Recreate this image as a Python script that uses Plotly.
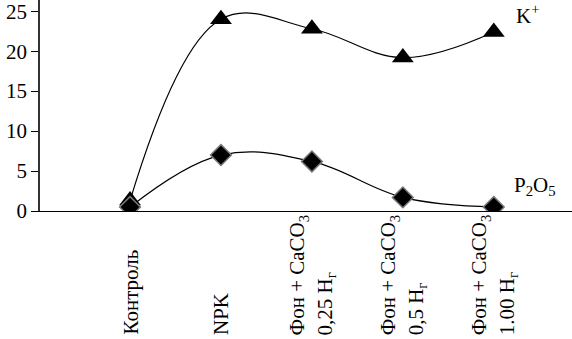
import plotly.graph_objects as go

categories = ["Контроль", "NPK",
              "Фон + CaCO<sub>3</sub><br>0,25 Н<sub>г</sub>",
              "Фон + CaCO<sub>3</sub><br>0,5 Н<sub>г</sub>",
              "Фон + CaCO<sub>3</sub><br>1.00 Н<sub>г</sub>"]
k_values = [1.3, 24.0, 22.8, 19.2, 22.4]
p_values = [0.5, 7.0, 6.2, 1.7, 0.5]
y_ticks = [0, 5, 10, 15, 20, 25]
series_names = ["K<sup>+</sup>", "P<sub>2</sub>O<sub>5</sub>"]

FONT = "Liberation Serif"

fig = go.Figure()
fig.add_trace(go.Scatter(
    x=categories, y=k_values, mode="lines+markers", name="K+",
    line=dict(color="black", width=1.2, shape="spline", smoothing=1.1),
    marker=dict(symbol="triangle-up", size=19, color="black", line=dict(width=0)),
))
fig.add_trace(go.Scatter(
    x=categories, y=p_values, mode="lines+markers", name="P2O5",
    line=dict(color="black", width=1.2, shape="spline", smoothing=1.1),
    marker=dict(symbol="diamond", size=16, color="black", line=dict(color="#777777", width=1.5)),
))

annotations = []
for c in categories:
    annotations.append(dict(
        x=c, y=-(337 - 211) / 211, xref="x", yref="paper",
        text=c, showarrow=False, textangle=-90,
        xanchor="center", yanchor="bottom", align="left",
        font=dict(family=FONT, size=21, color="black"),
    ))
annotations.append(dict(x=4.22, y=24.6, xref="x", yref="y", text=series_names[0],
                        showarrow=False, xanchor="left", yanchor="middle",
                        font=dict(family=FONT, size=21, color="black")))
annotations.append(dict(x=4.2, y=3.1, xref="x", yref="y", text=series_names[1],
                        showarrow=False, xanchor="left", yanchor="middle",
                        font=dict(family=FONT, size=21, color="black")))

fig.update_layout(
    width=572, height=339,
    margin=dict(l=40, r=0, t=0, b=128),
    paper_bgcolor="white", plot_bgcolor="white",
    showlegend=False,
    font=dict(family=FONT, size=21, color="black"),
    xaxis=dict(type="category", range=[-0.99, 4.86], showticklabels=False,
               showgrid=False, zeroline=False, showline=True, linecolor="black",
               linewidth=1, ticks=""),
    yaxis=dict(range=[0, 26.4], tickvals=y_ticks, ticktext=[str(v) for v in y_ticks],
               showgrid=False, zeroline=False, showline=True, linecolor="#333333",
               linewidth=1.5, ticks="outside", ticklen=7, tickcolor="black",
               ticklabeloverflow="allow",
               tickfont=dict(family=FONT, size=21, color="black")),
    annotations=annotations,
)

fig.write_html("out.html", config={"displayModeBar": False},
               post_script="document.body.style.margin='0';")
